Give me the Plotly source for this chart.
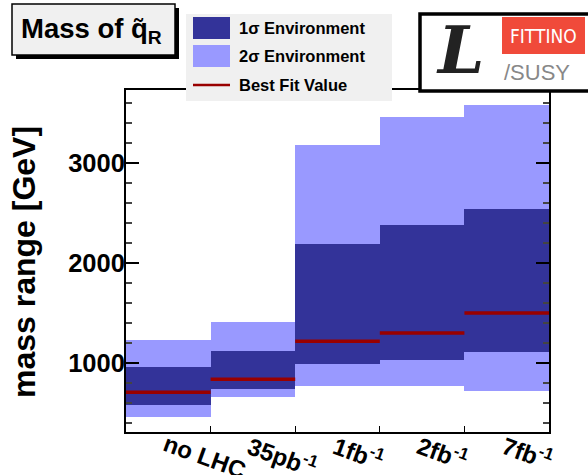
import plotly.graph_objects as go

categories = ["no LHC", "35pb<sup>-1</sup>", "1fb<sup>-1</sup>", "2fb<sup>-1</sup>", "7fb<sup>-1</sup>"]
two_sigma_low = [466, 663, 773, 773, 723]
one_sigma_low = [583, 743, 993, 1033, 1113]
best_fit = [710, 840, 1220, 1303, 1503]
one_sigma_high = [963, 1123, 2193, 2383, 2543]
two_sigma_high = [1233, 1413, 3183, 3463, 3583]
y_ticks = [1000, 2000, 3000]

W, H = 588, 475
ML, MR, MT, MB = 126, 39, 90, 43
PW, PH = W - ML - MR, H - MT - MB

def px(x):
    return (x - ML) / PW

def py(y):
    return (H - MB - y) / PH

n = len(categories)
centers = [i + 0.5 for i in range(n)]

fig = go.Figure()
fig.add_trace(go.Bar(x=centers, y=[h - l for h, l in zip(two_sigma_high, two_sigma_low)],
                     base=two_sigma_low, width=1, marker=dict(color="#9999ff", line=dict(width=0)),
                     showlegend=False, hoverinfo="skip"))
fig.add_trace(go.Bar(x=centers, y=[h - l for h, l in zip(one_sigma_high, one_sigma_low)],
                     base=one_sigma_low, width=1, marker=dict(color="#333399", line=dict(width=0)),
                     showlegend=False, hoverinfo="skip"))
bx, by = [], []
for i, v in enumerate(best_fit):
    bx += [i, i + 1, None]
    by += [v, v, None]
fig.add_trace(go.Scatter(x=bx, y=by, mode="lines", line=dict(color="#990000", width=3.5),
                         showlegend=False, hoverinfo="skip"))

font_b = "Liberation Sans, Arial, sans-serif"

fig.update_layout(
    width=W, height=H, barmode="overlay", bargap=0,
    margin=dict(l=ML, r=MR, t=MT, b=MB, autoexpand=False),
    paper_bgcolor="white", plot_bgcolor="white",
    showlegend=False,
    font=dict(family=font_b, color="black"),
    xaxis=dict(range=[0, n], tickvals=list(range(n + 1)), showticklabels=False, automargin=False,
               ticks="inside", ticklen=6, tickcolor="black", showline=True, linecolor="black",
               linewidth=1.5, mirror=True, showgrid=False, zeroline=False),
    yaxis=dict(range=[312, 3733], tickvals=y_ticks, ticks="inside", ticklen=13, tickwidth=1.5,
               tickcolor="black", showline=True, linecolor="black", linewidth=2, mirror="ticks",
               showgrid=False, zeroline=False, automargin=False, ticklabelstandoff=-6,
               tickfont=dict(size=25.5, family=font_b, weight="bold"),
               minor=dict(dtick=200, ticks="inside", ticklen=6, tickcolor="#444", showgrid=False)),
)

# y axis title
fig.add_annotation(x=px(24), y=py(262), xref="paper", yref="paper", xanchor="center", yanchor="middle",
                   text="<b>mass range [GeV]</b>", textangle=-90, showarrow=False,
                   font=dict(size=32, family=font_b))

# category labels (rotated)
for c, lab in zip(centers, categories):
    fig.add_annotation(x=c, xref="x", y=py(427), yref="paper", text="<b>" + lab + "</b>",
                       showarrow=False, textangle=20, xanchor="left", yanchor="top",
                       font=dict(size=24, family=font_b), xshift=-11)

shapes = []
# title box with shadow
shapes.append(dict(type="rect", xref="paper", yref="paper", x0=px(16), x1=px(179), y0=py(59), y1=py(8),
                   fillcolor="black", line=dict(width=0), layer="above"))
shapes.append(dict(type="rect", xref="paper", yref="paper", x0=px(12), x1=px(175), y0=py(55), y1=py(4),
                   fillcolor="#f0f0f0", line=dict(color="black", width=1.5), layer="above"))
# legend box
shapes.append(dict(type="rect", xref="paper", yref="paper", x0=px(186), x1=px(392), y0=py(101), y1=py(14),
                   fillcolor="#f0f0f0", line=dict(width=0), layer="above"))
shapes.append(dict(type="rect", xref="paper", yref="paper", x0=px(193), x1=px(230), y0=py(39), y1=py(17),
                   fillcolor="#333399", line=dict(width=0), layer="above"))
shapes.append(dict(type="rect", xref="paper", yref="paper", x0=px(193), x1=px(230), y0=py(67), y1=py(45),
                   fillcolor="#9999ff", line=dict(width=0), layer="above"))
shapes.append(dict(type="line", xref="paper", yref="paper", x0=px(193), x1=px(230), y0=py(85), y1=py(85),
                   line=dict(color="#990000", width=2.5), layer="above"))
# logo
shapes.append(dict(type="rect", xref="paper", yref="paper", x0=px(420), x1=px(592), y0=py(91), y1=py(14),
                   fillcolor="white", line=dict(color="black", width=3.5), layer="above"))
shapes.append(dict(type="rect", xref="paper", yref="paper", x0=px(502), x1=px(585), y0=py(54), y1=py(17),
                   fillcolor="#f04a3a", line=dict(width=0), layer="above"))
fig.update_layout(shapes=shapes)

fig.add_annotation(x=px(19), y=py(31), xref="paper", yref="paper", xanchor="left", yanchor="middle",
                   text="<b>Mass of q\u0303<sub>R</sub></b>", showarrow=False,
                   font=dict(size=27.5, family=font_b, color="black"))
leg = [("1\u03c3 Environment", 28), ("2\u03c3 Environment", 56), ("Best Fit Value", 85)]
for t, yy in leg:
    fig.add_annotation(x=px(237), y=py(yy), xref="paper", yref="paper", xanchor="left", yanchor="middle",
                       text="<b>" + t + "</b>", showarrow=False, font=dict(size=16.5, family=font_b))
fig.add_annotation(x=px(543), y=py(36), xref="paper", yref="paper", xanchor="center", yanchor="middle",
                   text="FITTINO", showarrow=False,
                   font=dict(size=19, family="DejaVu Sans Condensed, DejaVu Sans", color="white"))
fig.add_annotation(x=px(460), y=py(50), xref="paper", yref="paper", xanchor="center", yanchor="middle",
                   text="<b><i>L</i></b>", showarrow=False,
                   font=dict(size=66, family="DejaVu Serif", color="#222"))
fig.add_annotation(x=px(537), y=py(72), xref="paper", yref="paper", xanchor="center", yanchor="middle",
                   text="/SUSY", showarrow=False,
                   font=dict(size=22, family="Liberation Sans", color="#888"))

fig.write_html("out.html", post_script="document.body.style.margin='0px';",
               config={"displayModeBar": False})
